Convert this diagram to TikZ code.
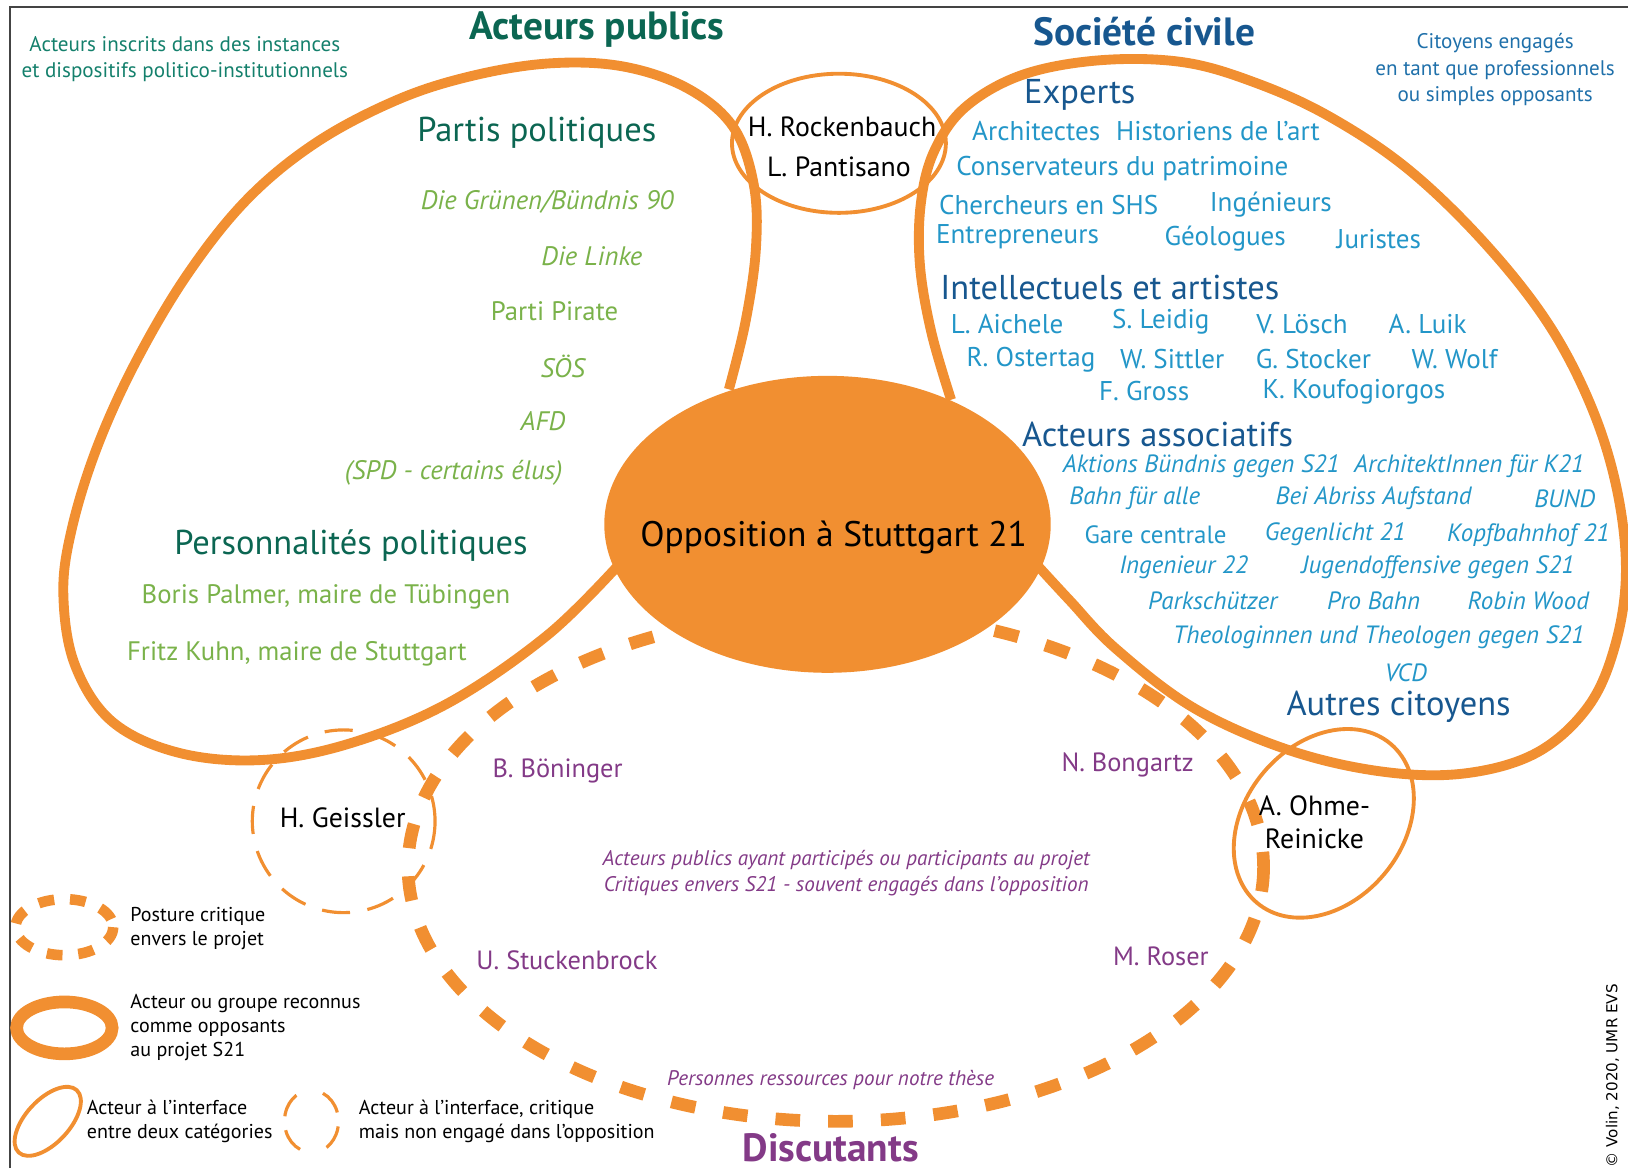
\documentclass[tikz,border=0pt]{standalone}
\usepackage{fontspec}
\setmainfont{PT Sans}
\newfontfamily\copyfont{DejaVu Sans}
\usepackage{xcolor}
\usetikzlibrary{positioning}

\definecolor{s21orange}{HTML}{F18F31}
\definecolor{pubgreen}{HTML}{0B6652}
\definecolor{notegreen}{HTML}{14806C}
\definecolor{partygreen}{HTML}{7AB24A}
\definecolor{civblue}{HTML}{17578F}
\definecolor{itemblue}{HTML}{2396C8}
\definecolor{noteblue}{HTML}{1F70AA}
\definecolor{discpurple}{HTML}{833A87}
\definecolor{framegray}{HTML}{444444}

\newcommand{\fsz}[2]{\fontsize{#1}{#2}\selectfont}

\begin{document}
\begin{tikzpicture}[
    x=0.010383cm, y=-0.010383cm, inner sep=0pt,
    grouploop/.style={draw=s21orange, line width=2.8pt},
    interface/.style={draw=s21orange, line width=1.1pt},
    critic/.style={draw=s21orange, line width=0.9pt, dash pattern=on 8pt off 5pt},
    discloop/.style={draw=s21orange, line width=3.6pt, dash pattern=on 7pt off 8pt},
    grouptitle/.style={font=\fsz{11.2}{13}\bfseries},
    head/.style={font=\fsz{9.8}{11}},
    party/.style={font=\fsz{7.6}{9}, text=partygreen},
    partyit/.style={font=\fsz{7.6}{9}\itshape, text=partygreen},
    expert/.style={font=\fsz{7.7}{9}, text=itemblue},
    assoc/.style={font=\fsz{7.1}{8.5}\itshape, text=itemblue},
    person/.style={font=\fsz{7.9}{9.5}, align=center},
    disc/.style={font=\fsz{7.5}{9}, text=discpurple},
    discnote/.style={font=\fsz{6}{7.4}\itshape, text=discpurple, align=center},
    note/.style={font=\fsz{6}{7.6}, align=center},
    legtext/.style={font=\fsz{5.7}{6.8}, align=left, anchor=west}
]
\useasboundingbox (0,0) rectangle (1568,1125);
% frame
\draw[framegray, line width=0.5pt] (9.6,1125) -- (9.6,6.7) -- (1568,6.7);

% discutants and critical actor
\draw[discloop] (805,835) ellipse [x radius=412, y radius=245];
\draw[critic] (331,791) ellipse [x radius=88, y radius=88];

% public actors
\draw[grouploop] plot[smooth, tension=0.6] coordinates {(702,375) (718,310) (728,240) (726,178) (706,122) (662,85) (600,64) (530,61) (455,73) (383,96) (305,137) (238,192) (180,265) (130,350) (93,432) (69,510) (61,572) (72,640) (108,695) (172,725) (252,732) (337,716) (432,677) (527,612) (595,545)};
% civil society
\draw[grouploop] plot[smooth, tension=0.6] coordinates {(916,385) (897,320) (886,255) (887,195) (900,145) (930,103) (985,72) (1060,58) (1140,60) (1210,80) (1280,112) (1355,162) (1428,232) (1490,310) (1532,390) (1557,470) (1566,550) (1556,620) (1530,680) (1480,725) (1410,745) (1330,743) (1240,722) (1150,682) (1075,625) (1030,578) (995,540)};

% interface actors
\draw[interface] (808,138) ellipse [x radius=103, y radius=67];
\draw[interface, rotate around={50:(1275,793)}] (1275,793) ellipse [x radius=100, y radius=76];

% opposition core
\fill[s21orange] (797,505) ellipse [x radius=215, y radius=143];
\node[font=\fsz{10.1}{12}] (core) at (803,518) {Opposition à Stuttgart 21};

% titles and notes
\node[grouptitle, text=pubgreen] (pubtitle) at (575,28) {Acteurs publics};
\node[grouptitle, text=civblue] (civtitle) at (1102,30) {Société civile};
\node[grouptitle, text=discpurple] (disctitle) at (800,1105) {Discutants};
\node[note, text=notegreen] (pubnote) at (178,57) {Acteurs inscrits dans des instances\\et dispositifs politico-institutionnels};
\node[note, text=noteblue] (civnote) at (1440,67) {Citoyens engagés\\en tant que professionnels\\ou simples opposants};

% public actors content
\node[head, text=pubgreen] (partis) at (517,128) {Partis politiques};
\node[partyit] (gruenen) at (527,194) {Die Grünen/Bündnis 90};
\node[partyit] (linke) at (570,247) {Die Linke};
\node[party] (pirate) at (534,300) {Parti Pirate};
\node[partyit] (soes) at (542,353) {SÖS};
\node[partyit] (afd) at (523,406) {AFD};
\node[partyit] (spd) at (437,455) {(SPD - certains élus)};
\node[head, text=pubgreen] (perso) at (338,525) {Personnalités politiques};
\node[party] (palmer) at (314,575) {Boris Palmer, maire de Tübingen};
\node[party] (kuhn) at (286,630) {Fritz Kuhn, maire de Stuttgart};

% interface persons
\node[person] (rockenbauch) at (811,122) {H. Rockenbauch};
\node[person] (pantisano) at (808,161) {L. Pantisano};
\node[person] (ohme) at (1266,792) {A. Ohme-\\Reinicke};
\node[person] (geissler) at (330,788) {H. Geissler};

% civil society content
\node[head, text=civblue] (experts) at (1040,91) {Experts};
\node[expert] (archi) at (998,126) {Architectes};
\node[expert] (histo) at (1173,126) {Historiens de l'art};
\node[expert] (conserv) at (1081,162) {Conservateurs du patrimoine};
\node[expert] (shs) at (1010,197) {Chercheurs en SHS};
\node[expert] (inge) at (1224,197) {Ingénieurs};
\node[expert] (entre) at (980,228) {Entrepreneurs};
\node[expert] (geolo) at (1180,230) {Géologues};
\node[expert] (juri) at (1328,230) {Juristes};
\node[head, text=civblue] (intel) at (1069,277) {Intellectuels et artistes};
\node[expert] (aichele) at (970,312) {L. Aichele};
\node[expert] (leidig) at (1118,310) {S. Leidig};
\node[expert] (loesch) at (1254,312) {V. Lösch};
\node[expert] (luik) at (1375,312) {A. Luik};
\node[expert] (ostertag) at (993,346) {R. Ostertag};
\node[expert] (sittler) at (1129,346) {W. Sittler};
\node[expert] (stocker) at (1265,346) {G. Stocker};
\node[expert] (wolf) at (1401,346) {W. Wolf};
\node[expert] (gross) at (1102,377) {F. Gross};
\node[expert] (kouf) at (1304,377) {K. Koufogiorgos};
\node[head, text=civblue] (asso) at (1115,418) {Acteurs associatifs};
\node[assoc] (aktions) at (1157,449) {Aktions Bündnis gegen S21};
\node[assoc] (archik) at (1415,449) {ArchitektInnen für K21};
\node[assoc] (bahn) at (1093,480) {Bahn für alle};
\node[assoc] (abriss) at (1323,480) {Bei Abriss Aufstand};
\node[assoc] (bund) at (1507,480) {BUND};
\node[assoc, font=\fsz{7.1}{8.5}] (gare) at (1113,515) {Gare centrale};
\node[assoc] (gegen) at (1286,515) {Gegenlicht 21};
\node[assoc] (kopf) at (1472,515) {Kopfbahnhof 21};
\node[assoc] (ing) at (1140,546) {Ingenieur 22};
\node[assoc] (jugend) at (1385,546) {Jugendoffensive gegen S21};
\node[assoc] (park) at (1168,579) {Parkschützer};
\node[assoc] (probahn) at (1323,579) {Pro Bahn};
\node[assoc] (robin) at (1472,579) {Robin Wood};
\node[assoc] (theo) at (1328,614) {Theologinnen und Theologen gegen S21};
\node[assoc] (vcd) at (1354,648) {VCD};
\node[head, text=civblue] (autres) at (1347,681) {Autres citoyens};

% discutants content
\node[disc] (boeninger) at (537,743) {B. Böninger};
\node[disc] (bongartz) at (1086,737) {N. Bongartz};
\node[disc] (stucken) at (546,925) {U. Stuckenbrock};
\node[disc] (roser) at (1118,921) {M. Roser};
\node[discnote] (discinfo) at (815,841) {Acteurs publics ayant participés ou participants au projet\\Critiques envers S21 - souvent engagés dans l'opposition};
\node[discnote] (ressources) at (800,1040) {Personnes ressources pour notre thèse};

% legend
\draw[draw=s21orange, line width=3pt, dash pattern=on 4.5pt off 4.5pt] (62,893) ellipse [x radius=47, y radius=27];
\node[legtext] (legcrit) at (125,894) {Posture critique\\envers le projet};
\draw[draw=s21orange, line width=3.6pt] (62,990) ellipse [x radius=46, y radius=25];
\node[legtext] (legopp) at (125,990) {Acteur ou groupe reconnus\\comme opposants\\au projet S21};
\draw[interface, rotate around={47:(46,1080)}] (46,1080) ellipse [x radius=41, y radius=21];
\node[legtext] (leginter) at (83,1080) {Acteur à l'interface\\entre deux catégories};
\draw[critic, dash pattern=on 7pt off 4pt] (289,1107) arc[start angle=115, end angle=245, x radius=26, y radius=30];
\draw[critic, dash pattern=on 7pt off 4pt] (311,1053) arc[start angle=-65, end angle=65, x radius=26, y radius=30];
\node[legtext] (legcritint) at (345,1080) {Acteur à l'interface, critique\\mais non engagé dans l'opposition};

\node[font=\copyfont\fsz{4.3}{5}, rotate=90] (copy) at (1553,1036) {© Volin, 2020, UMR EVS};
\end{tikzpicture}
\end{document}
